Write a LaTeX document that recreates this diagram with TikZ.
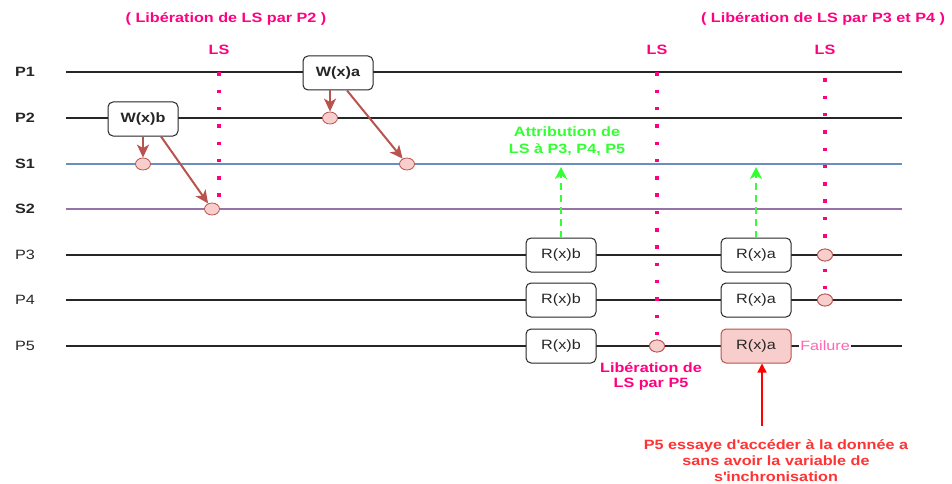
\documentclass[tikz,border=0pt]{standalone}
\usepackage{fontspec}
\setmainfont{Liberation Sans}[FakeStretch=1.2]
\usetikzlibrary{arrows.meta,shapes.geometric}
\definecolor{lspink}{HTML}{FF0080}
\definecolor{failpink}{HTML}{FF66B3}
\definecolor{attgreen}{HTML}{33FF33}
\definecolor{errred}{HTML}{FF3333}
\definecolor{wbrown}{HTML}{B85450}
\definecolor{wfill}{HTML}{F8CECC}
\definecolor{sblue}{HTML}{6C8EBF}
\definecolor{spurple}{HTML}{9673A6}
\begin{document}
\begin{tikzpicture}[x=1pt,y=-1pt,
  txt/.style={font=\fontsize{13.5}{16.5}\selectfont},
  lane/.style={line width=2pt,draw=black!85},
  lanename/.style={txt,anchor=center,text=black!85},
  op/.style={txt,draw=black!85,line width=1pt,fill=white,rounded corners=5pt,
    minimum width=70pt,minimum height=34pt,inner sep=0pt,text=black!85},
  evt/.style={ellipse,draw=wbrown,fill=wfill,line width=0.8pt,
    minimum width=15pt,minimum height=12pt,inner sep=0pt},
  wr/.style={draw=wbrown,line width=2pt,-{Stealth[length=13pt,width=12pt,inset=3.5pt]}},
  lsline/.style={draw=lspink,line width=3.5pt,dash pattern=on 3.5pt off 13.8pt},
  lslabel/.style={txt,font=\fontsize{13.5}{16.5}\selectfont\bfseries,text=lspink},
  grant/.style={draw=attgreen,line width=2pt,dash pattern=on 7pt off 5pt,
    -{Stealth[length=12pt,width=12pt,inset=3.5pt]}},
]
\useasboundingbox (0,0) rectangle (952,484);

% process and sync-variable lanes
\foreach \n/\y/\c/\w in {P1/72/black!85/\bfseries,P2/118/black!85/\bfseries,
                        S1/164/sblue/\bfseries,S2/209/spurple/\bfseries,
                        P3/255/black!85/\mdseries,P4/300/black!85/\mdseries,P5/346/black!85/\mdseries}{
  \node[lanename,font=\fontsize{13.5}{16.5}\selectfont\w] (lab\n) at (25,\y) {\n};
  \coordinate (beg\n) at (66,\y);
  \coordinate (end\n) at (902,\y);
  \draw[lane,draw=\c] (beg\n) -- (end\n);
}

% titles
\node[lslabel] (titleA) at (226,19) {( Libération de LS par P2 )};
\node[lslabel] (titleB) at (823,19) {( Libération de LS par P3 et P4 )};
\node[lslabel] (lsA) at (219,50) {LS};
\node[lslabel] (lsB) at (657,50) {LS};
\node[lslabel] (lsC) at (825,50) {LS};

% events
\node[evt] (e1) at (143,164) {};
\node[evt] (e2) at (212,209) {};
\node[evt] (e3) at (330,118) {};
\node[evt] (e4) at (407,164) {};
\node[evt] (e5) at (657,346) {};
\node[evt] (e6) at (825,255) {};
\node[evt] (e7) at (825,300) {};

% release markers
\coordinate (lsAend) at (219,200);
\draw[lsline] ([yshift=-2pt]lsA.south) ++(0,12) -- (lsAend);
\draw[lsline] ([yshift=-2pt]lsB.south) ++(0,12) -- (e5.north);
\draw[lsline] ([yshift=-2pt]lsC.south) ++(0,18) -- (e7.north);
\node[evt] at (e5) {};
\node[evt] at (e6) {};
\node[evt] at (e7) {};

% operations
\node[op,font=\fontsize{13.5}{16.5}\selectfont\bfseries] (wb) at (143,119) {W(x)b};
\node[op,font=\fontsize{13.5}{16.5}\selectfont\bfseries] (wa) at (338,73) {W(x)a};
\node[op] (rb3) at (561,255) {R(x)b};
\node[op] (rb4) at (561,300) {R(x)b};
\node[op] (rb5) at (561,346) {R(x)b};
\node[op] (ra3) at (756,255) {R(x)a};
\node[op] (ra4) at (756,300) {R(x)a};
\node[op,draw=wbrown,fill=wfill] (ra5) at (756,346) {R(x)a};

% writes propagated to the sync copies
\draw[wr] (wb.south -| e1) -- (e1.north);
\draw[wr] ([xshift=18pt]wb.south) -- (e2);
\draw[wr] (wa.south -| e3) -- (e3.north);
\draw[wr] ([xshift=9pt]wa.south) -- (e4);

% acquisitions
\coordinate (grantB) at (561,167);
\coordinate (grantA) at (756,167);
\draw[grant] (rb3.north) -- (grantB);
\draw[grant] (ra3.north) -- (grantA);
\node[txt,font=\fontsize{13.5}{16.5}\selectfont\bfseries,text=attgreen,align=center] (attr) at (567,141)
  {Attribution de\\LS à P3, P4, P5};

% release by P5
\node[txt,font=\fontsize{13.5}{15}\selectfont\bfseries,text=lspink,align=center] (relP5) at (651,376)
  {Libération de\\LS par P5};

% failure
\node[txt,fill=white,text=failpink,inner xsep=1.5pt,inner ysep=2pt] (fail) at (825,346) {Failure};

\coordinate (errstart) at (762,426);
\draw[draw=red,line width=1.3pt,-{Triangle[length=9pt,width=9pt]}] (errstart) -- (errstart |- ra5.south);
\node[txt,font=\fontsize{13.5}{16}\selectfont\bfseries,text=errred,align=center] (errmsg) at (776,461)
  {P5 essaye d\textquotesingle accéder à la donnée a\\sans avoir la variable de\\s\textquotesingle inchronisation};
\end{tikzpicture}
\end{document}
